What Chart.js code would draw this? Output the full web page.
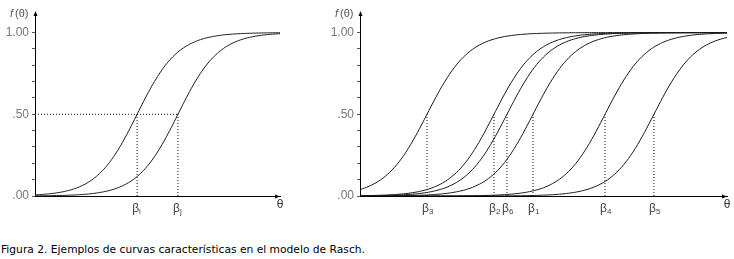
<!DOCTYPE html>
<html>
<head>
<meta charset="utf-8">
<script src="https://cdn.jsdelivr.net/npm/chart.js@4.4.1/dist/chart.umd.min.js"></script>
<style>
  body { margin: 0; background: #fff; width: 734px; height: 259px; position: relative; overflow: hidden; }
  .box { position: absolute; top: 0; height: 230px; }
  #left { left: 0; width: 300px; }
  #right { left: 320px; width: 414px; }
  .caption { position: absolute; left: 1px; top: 243px; font-family: "DejaVu Sans", Verdana, sans-serif; font-size: 10.7px; color: #000; }
</style>
</head>
<body>
<div class="box" id="left"><canvas id="chartLeft"></canvas></div>
<div class="box" id="right"><canvas id="chartRight"></canvas></div>
<div class="caption">Figura 2. Ejemplos de curvas características en el modelo de Rasch.</div>

<script>
// dificultades (theta en logits)
const betaLeft = [0, 2];
const betaLeftNames = ["i", "j"];
const thetaLeft = [-5, 7];

const betaRight = [5.05, 3.19, 0, 8.48, 10.81, 3.81];
const betaRightNames = ["1", "2", "3", "4", "5", "6"];
const thetaRight = [-3.19, 14.29];

const yTicks = [0, 0.1, 0.2, 0.3, 0.4, 0.5, 0.6, 0.7, 0.8, 0.9, 1];
const yLabels = { 0: ".00", 0.5: ".50", 1: "1.00" };

// curva caracteristica del modelo de Rasch
function rasch(theta, b) {
    return 1 / (1 + Math.exp(-(theta - b)));
}

function curvePoints(b, range) {
    const pts = [];
    const n = 160;
    for (let k = 0; k <= n; k++) {
        const t = range[0] + (range[1] - range[0]) * k / n;
        pts.push({ x: t, y: rasch(t, b) });
    }
    return pts;
}

const dotted = { borderColor: "#111", borderWidth: 1, borderDash: [1, 2], pointRadius: 0, fill: false };

// etiquetas f(θ), θ, β y flechas de los ejes
const axisExtras = {
    id: "axisExtras",
    afterDraw(chart, args, opts) {
        const { ctx, chartArea: a } = chart;
        const xs = chart.scales.x;
        ctx.save();
        ctx.strokeStyle = "#000";
        ctx.fillStyle = "#000";
        ctx.lineWidth = 1;
        // flecha eje y
        ctx.beginPath();
        ctx.moveTo(a.left + 0.5, a.top - 2);
        ctx.lineTo(a.left - 1.5, a.top + 3);
        ctx.lineTo(a.left + 2.5, a.top + 3);
        ctx.closePath();
        ctx.fill();
        // flecha eje x
        const ax = a.right - 2;
        ctx.beginPath();
        ctx.moveTo(ax + 2, a.bottom + 0.5);
        ctx.lineTo(ax - 3, a.bottom - 1.5);
        ctx.lineTo(ax - 3, a.bottom + 2.5);
        ctx.closePath();
        ctx.fill();

        // f(θ)
        ctx.fillStyle = "#555";
        ctx.textBaseline = "middle";
        ctx.textAlign = "left";
        const fx = a.left - 25;
        ctx.font = "italic 11px 'Liberation Sans', Arial, sans-serif";
        ctx.fillText("f", fx, a.top + 1);
        ctx.font = "11px 'Liberation Sans', Arial, sans-serif";
        ctx.fillText("(θ)", fx + 5, a.top + 1);

        // θ
        ctx.fillStyle = "#333";
        ctx.font = "12px 'Liberation Sans', Arial, sans-serif";
        ctx.textAlign = "center";
        ctx.fillText("θ", a.right, a.bottom + 9);

        // β
        opts.betas.forEach((b, i) => {
            const px = xs.getPixelForValue(b);
            ctx.fillStyle = "#3b4250";
            ctx.font = "12px 'Liberation Sans', Arial, sans-serif";
            ctx.textAlign = "right";
            ctx.fillText("β", px + 2, a.bottom + 13);
            ctx.font = "8px 'Liberation Sans', Arial, sans-serif";
            ctx.textAlign = "left";
            ctx.fillText(opts.names[i], px + 2, a.bottom + 16);
        });
        ctx.restore();
    }
};

function makeChart(id, betas, names, range, yWidth, padRight, extra) {
    const datasets = betas.map(b => ({
        data: curvePoints(b, range),
        borderColor: "#1a1a1a",
        borderWidth: 1,
        pointRadius: 0,
        tension: 0,
        fill: false
    }));
    betas.forEach(b => {
        datasets.push(Object.assign({ data: [{ x: b, y: 0 }, { x: b, y: 0.5 }] }, dotted));
    });
    (extra || []).forEach(d => datasets.push(Object.assign({ data: d }, dotted)));

    return new Chart(document.getElementById(id), {
        type: "line",
        data: { datasets },
        options: {
            responsive: true,
            maintainAspectRatio: false,
            animation: false,
            layout: { padding: { top: 13, right: padRight, left: 0, bottom: 0 } },
            plugins: {
                legend: { display: false },
                tooltip: { enabled: false },
                axisExtras: { betas, names }
            },
            scales: {
                x: {
                    type: "linear",
                    min: range[0],
                    max: range[1],
                    grid: { display: false, drawTicks: false },
                    border: { color: "#000", width: 1 },
                    ticks: { display: false },
                    afterFit: s => { s.height = 34; }
                },
                y: {
                    min: 0,
                    max: 1.12,
                    afterBuildTicks: s => { s.ticks = yTicks.map(v => ({ value: v })); },
                    grid: { drawOnChartArea: false, tickLength: 3, color: "#555" },
                    border: { color: "#000", width: 1 },
                    ticks: {
                        padding: 3,
                        color: "#777",
                        font: { family: "'Liberation Sans', Arial, sans-serif", size: 12 },
                        callback: v => yLabels[Math.round(v * 10) / 10] || ""
                    },
                    afterFit: s => { s.width = yWidth; }
                }
            }
        },
        plugins: [axisExtras]
    });
}

makeChart("chartLeft", betaLeft, betaLeftNames, thetaLeft, 35, 20,
    [[{ x: thetaLeft[0], y: 0.5 }, { x: betaLeft[1], y: 0.5 }]]);
makeChart("chartRight", betaRight, betaRightNames, thetaRight, 40, 7);
</script>
</body>
</html>
